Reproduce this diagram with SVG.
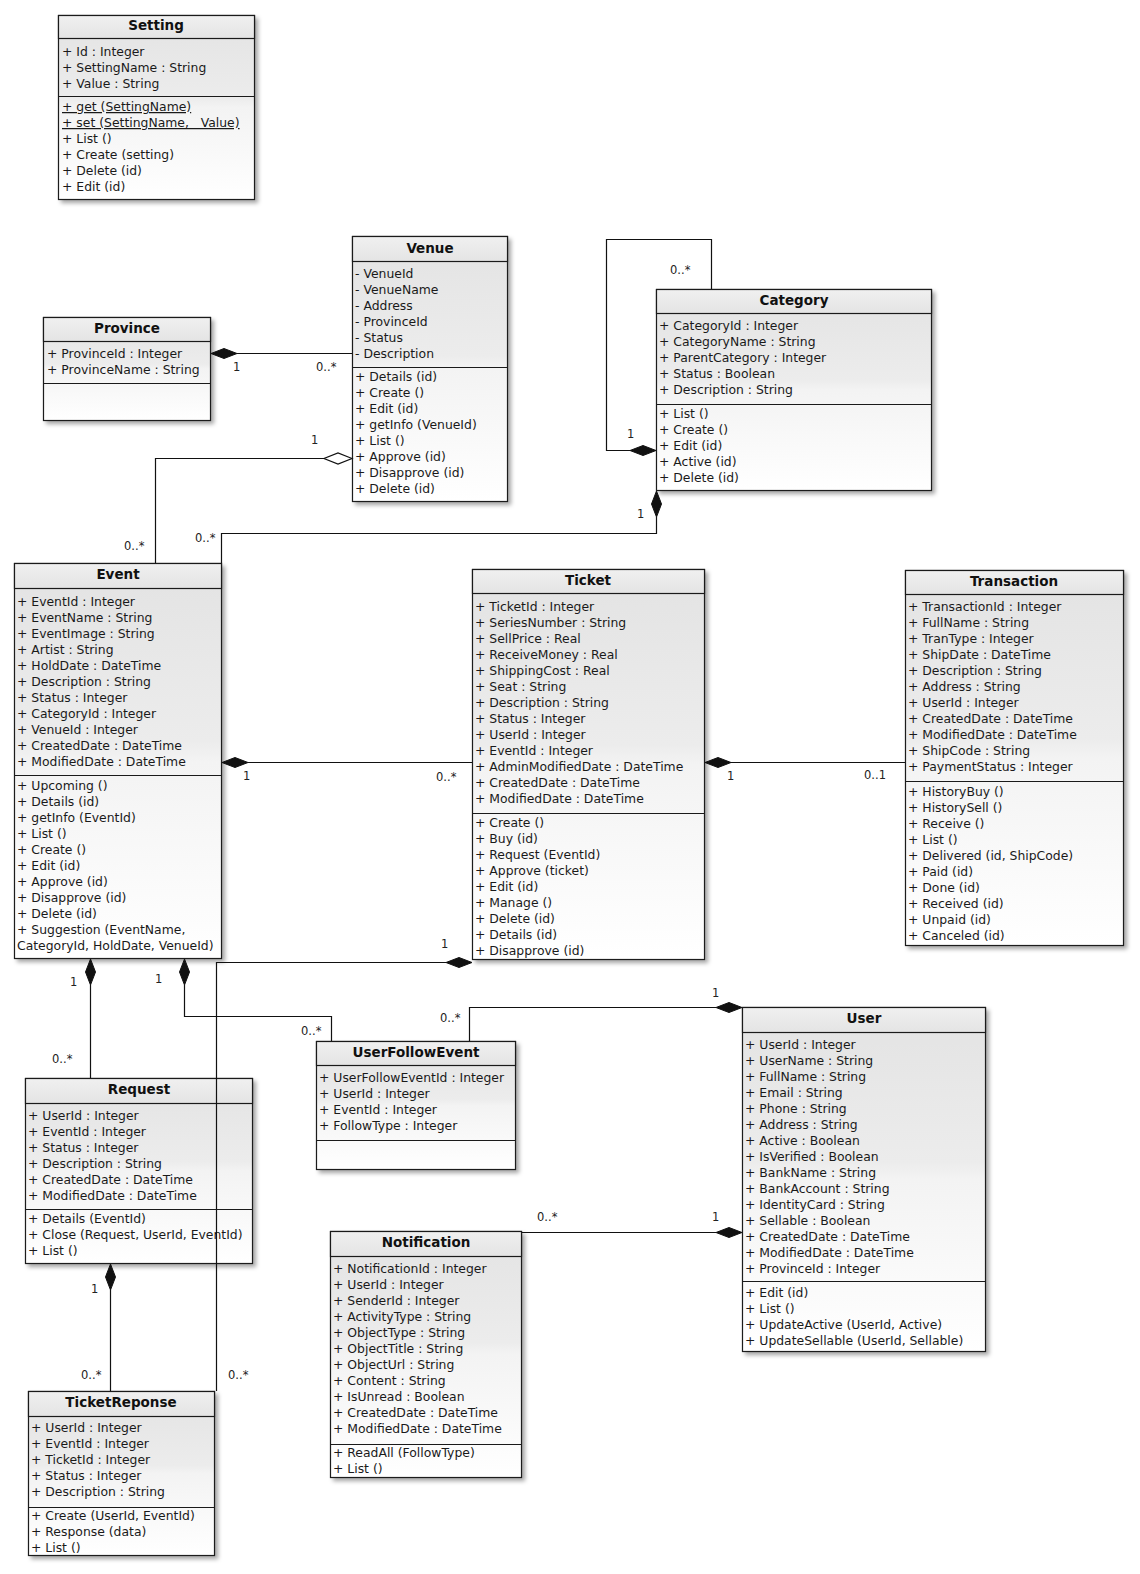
<svg xmlns="http://www.w3.org/2000/svg" width="1140" height="1574" viewBox="0 0 1140 1574">
<defs>
  <linearGradient id="bodyFill" x1="0" y1="0" x2="0" y2="1">
    <stop offset="0" stop-color="#e3e3e3"/>
    <stop offset="0.45" stop-color="#ececec"/>
    <stop offset="0.5" stop-color="#f3f3f3"/>
    <stop offset="1" stop-color="#ffffff"/>
  </linearGradient>
  <linearGradient id="headFill" x1="0" y1="0" x2="0" y2="1">
    <stop offset="0" stop-color="#f0f0f0"/>
    <stop offset="1" stop-color="#e4e4e4"/>
  </linearGradient>
  <filter id="shadow" x="-5%" y="-5%" width="115%" height="115%">
    <feDropShadow dx="3" dy="3" stdDeviation="2" flood-color="#000" flood-opacity="0.35"/>
  </filter>
  <style>
    .frame { fill: url(#bodyFill); stroke: #1a1a1a; stroke-width: 1.2; filter: url(#shadow); }
    .head { fill: url(#headFill); stroke: #1a1a1a; stroke-width: 1.2; }
    .sep { stroke: #1a1a1a; stroke-width: 1.2; }
    .title { font-family: "DejaVu Sans", Verdana, sans-serif; font-weight: bold; font-size: 13.5px; fill: #111; text-anchor: middle; }
    .m { font-family: "DejaVu Sans", Verdana, sans-serif; font-size: 12.4px; fill: #1a1a1a; }
    .u { text-decoration: underline; }
    .wire { fill: none; stroke: #111; stroke-width: 1.2; }
    .solid { fill: #111; stroke: #111; stroke-width: 1; }
    .hollow { fill: #fff; stroke: #111; stroke-width: 1.2; }
    .lbl { font-family: "DejaVu Sans", Verdana, sans-serif; font-size: 11.5px; fill: #222; }
  </style>
</defs>

<rect width="1140" height="1574" fill="#ffffff"/>

<!-- Classes -->
<g id="setting">
  <rect class="frame" x="58.5" y="15.5" width="196" height="184"/>
  <rect class="head" x="58.5" y="15.5" width="196" height="23"/>
  <line class="sep" x1="58.5" y1="96.5" x2="254.5" y2="96.5"/>
  <text class="title" x="156" y="29.5">Setting</text>
  <text class="m" x="62" y="56">+ Id : Integer</text>
  <text class="m" x="62" y="72">+ SettingName : String</text>
  <text class="m" x="62" y="88">+ Value : String</text>
  <text class="m u" x="62" y="111">+ get (SettingName)</text>
  <text class="m u" x="62" y="127" xml:space="preserve">+ set (SettingName,   Value)</text>
  <text class="m" x="62" y="143">+ List ()</text>
  <text class="m" x="62" y="159">+ Create (setting)</text>
  <text class="m" x="62" y="175">+ Delete (id)</text>
  <text class="m" x="62" y="191">+ Edit (id)</text>
</g>

<g id="province">
  <rect class="frame" x="43.5" y="317.5" width="167" height="103"/>
  <rect class="head" x="43.5" y="317.5" width="167" height="24"/>
  <line class="sep" x1="43.5" y1="383.5" x2="210.5" y2="383.5"/>
  <text class="title" x="127" y="332.5">Province</text>
  <text class="m" x="47" y="357.5">+ ProvinceId : Integer</text>
  <text class="m" x="47" y="373.5">+ ProvinceName : String</text>
</g>

<g id="venue">
  <rect class="frame" x="352.5" y="236.5" width="155" height="265"/>
  <rect class="head" x="352.5" y="236.5" width="155" height="25"/>
  <line class="sep" x1="352.5" y1="367.5" x2="507.5" y2="367.5"/>
  <text class="title" x="430" y="252.5">Venue</text>
  <text class="m" x="355" y="277.5">- VenueId</text>
  <text class="m" x="355" y="293.5">- VenueName</text>
  <text class="m" x="355" y="309.5">- Address</text>
  <text class="m" x="355" y="325.5">- ProvinceId</text>
  <text class="m" x="355" y="341.5">- Status</text>
  <text class="m" x="355" y="357.5">- Description</text>
  <text class="m" x="355" y="380.5">+ Details (id)</text>
  <text class="m" x="355" y="396.5">+ Create ()</text>
  <text class="m" x="355" y="412.5">+ Edit (id)</text>
  <text class="m" x="355" y="428.5">+ getInfo (VenueId)</text>
  <text class="m" x="355" y="444.5">+ List ()</text>
  <text class="m" x="355" y="460.5">+ Approve (id)</text>
  <text class="m" x="355" y="476.5">+ Disapprove (id)</text>
  <text class="m" x="355" y="492.5">+ Delete (id)</text>
</g>

<g id="category">
  <rect class="frame" x="656.5" y="289.5" width="275" height="201"/>
  <rect class="head" x="656.5" y="289.5" width="275" height="24"/>
  <line class="sep" x1="656.5" y1="404.5" x2="931.5" y2="404.5"/>
  <text class="title" x="794" y="304.5">Category</text>
  <text class="m" x="659" y="329.5">+ CategoryId : Integer</text>
  <text class="m" x="659" y="345.5">+ CategoryName : String</text>
  <text class="m" x="659" y="361.5">+ ParentCategory : Integer</text>
  <text class="m" x="659" y="377.5">+ Status : Boolean</text>
  <text class="m" x="659" y="393.5">+ Description : String</text>
  <text class="m" x="659" y="417.5">+ List ()</text>
  <text class="m" x="659" y="433.5">+ Create ()</text>
  <text class="m" x="659" y="449.5">+ Edit (id)</text>
  <text class="m" x="659" y="465.5">+ Active (id)</text>
  <text class="m" x="659" y="481.5">+ Delete (id)</text>
</g>

<g id="event">
  <rect class="frame" x="14.5" y="563.5" width="207" height="395"/>
  <rect class="head" x="14.5" y="563.5" width="207" height="25"/>
  <line class="sep" x1="14.5" y1="775.5" x2="221.5" y2="775.5"/>
  <text class="title" x="118" y="579">Event</text>
  <text class="m" x="17" y="605.5">+ EventId : Integer</text>
  <text class="m" x="17" y="621.5">+ EventName : String</text>
  <text class="m" x="17" y="637.5">+ EventImage : String</text>
  <text class="m" x="17" y="653.5">+ Artist : String</text>
  <text class="m" x="17" y="669.5">+ HoldDate : DateTime</text>
  <text class="m" x="17" y="685.5">+ Description : String</text>
  <text class="m" x="17" y="701.5">+ Status : Integer</text>
  <text class="m" x="17" y="717.5">+ CategoryId : Integer</text>
  <text class="m" x="17" y="733.5">+ VenueId : Integer</text>
  <text class="m" x="17" y="749.5">+ CreatedDate : DateTime</text>
  <text class="m" x="17" y="765.5">+ ModifiedDate : DateTime</text>
  <text class="m" x="17" y="789.5">+ Upcoming ()</text>
  <text class="m" x="17" y="805.5">+ Details (id)</text>
  <text class="m" x="17" y="821.5">+ getInfo (EventId)</text>
  <text class="m" x="17" y="837.5">+ List ()</text>
  <text class="m" x="17" y="853.5">+ Create ()</text>
  <text class="m" x="17" y="869.5">+ Edit (id)</text>
  <text class="m" x="17" y="885.5">+ Approve (id)</text>
  <text class="m" x="17" y="901.5">+ Disapprove (id)</text>
  <text class="m" x="17" y="917.5">+ Delete (id)</text>
  <text class="m" x="17" y="933.5">+ Suggestion (EventName,</text>
  <text class="m" x="17" y="949.5">CategoryId, HoldDate, VenueId)</text>
</g>

<g id="ticket">
  <rect class="frame" x="472.5" y="569.5" width="232" height="390"/>
  <rect class="head" x="472.5" y="569.5" width="232" height="24"/>
  <line class="sep" x1="472.5" y1="813.5" x2="704.5" y2="813.5"/>
  <text class="title" x="588" y="584.5">Ticket</text>
  <text class="m" x="475" y="610.5">+ TicketId : Integer</text>
  <text class="m" x="475" y="626.5">+ SeriesNumber : String</text>
  <text class="m" x="475" y="642.5">+ SellPrice : Real</text>
  <text class="m" x="475" y="658.5">+ ReceiveMoney : Real</text>
  <text class="m" x="475" y="674.5">+ ShippingCost : Real</text>
  <text class="m" x="475" y="690.5">+ Seat : String</text>
  <text class="m" x="475" y="706.5">+ Description : String</text>
  <text class="m" x="475" y="722.5">+ Status : Integer</text>
  <text class="m" x="475" y="738.5">+ UserId : Integer</text>
  <text class="m" x="475" y="754.5">+ EventId : Integer</text>
  <text class="m" x="475" y="770.5">+ AdminModifiedDate : DateTime</text>
  <text class="m" x="475" y="786.5">+ CreatedDate : DateTime</text>
  <text class="m" x="475" y="802.5">+ ModifiedDate : DateTime</text>
  <text class="m" x="475" y="826.5">+ Create ()</text>
  <text class="m" x="475" y="842.5">+ Buy (id)</text>
  <text class="m" x="475" y="858.5">+ Request (EventId)</text>
  <text class="m" x="475" y="874.5">+ Approve (ticket)</text>
  <text class="m" x="475" y="890.5">+ Edit (id)</text>
  <text class="m" x="475" y="906.5">+ Manage ()</text>
  <text class="m" x="475" y="922.5">+ Delete (id)</text>
  <text class="m" x="475" y="938.5">+ Details (id)</text>
  <text class="m" x="475" y="954.5">+ Disapprove (id)</text>
</g>

<g id="transaction">
  <rect class="frame" x="905.5" y="570.5" width="218" height="375"/>
  <rect class="head" x="905.5" y="570.5" width="218" height="24"/>
  <line class="sep" x1="905.5" y1="781.5" x2="1123.5" y2="781.5"/>
  <text class="title" x="1014" y="585.5">Transaction</text>
  <text class="m" x="908" y="610.5">+ TransactionId : Integer</text>
  <text class="m" x="908" y="626.5">+ FullName : String</text>
  <text class="m" x="908" y="642.5">+ TranType : Integer</text>
  <text class="m" x="908" y="658.5">+ ShipDate : DateTime</text>
  <text class="m" x="908" y="674.5">+ Description : String</text>
  <text class="m" x="908" y="690.5">+ Address : String</text>
  <text class="m" x="908" y="706.5">+ UserId : Integer</text>
  <text class="m" x="908" y="722.5">+ CreatedDate : DateTime</text>
  <text class="m" x="908" y="738.5">+ ModifiedDate : DateTime</text>
  <text class="m" x="908" y="754.5">+ ShipCode : String</text>
  <text class="m" x="908" y="770.5">+ PaymentStatus : Integer</text>
  <text class="m" x="908" y="795.5">+ HistoryBuy ()</text>
  <text class="m" x="908" y="811.5">+ HistorySell ()</text>
  <text class="m" x="908" y="827.5">+ Receive ()</text>
  <text class="m" x="908" y="843.5">+ List ()</text>
  <text class="m" x="908" y="859.5">+ Delivered (id, ShipCode)</text>
  <text class="m" x="908" y="875.5">+ Paid (id)</text>
  <text class="m" x="908" y="891.5">+ Done (id)</text>
  <text class="m" x="908" y="907.5">+ Received (id)</text>
  <text class="m" x="908" y="923.5">+ Unpaid (id)</text>
  <text class="m" x="908" y="939.5">+ Canceled (id)</text>
</g>

<g id="user">
  <rect class="frame" x="742.5" y="1007.5" width="243" height="344"/>
  <rect class="head" x="742.5" y="1007.5" width="243" height="25"/>
  <line class="sep" x1="742.5" y1="1281.5" x2="985.5" y2="1281.5"/>
  <text class="title" x="864" y="1023">User</text>
  <text class="m" x="745" y="1048.5">+ UserId : Integer</text>
  <text class="m" x="745" y="1064.5">+ UserName : String</text>
  <text class="m" x="745" y="1080.5">+ FullName : String</text>
  <text class="m" x="745" y="1096.5">+ Email : String</text>
  <text class="m" x="745" y="1112.5">+ Phone : String</text>
  <text class="m" x="745" y="1128.5">+ Address : String</text>
  <text class="m" x="745" y="1144.5">+ Active : Boolean</text>
  <text class="m" x="745" y="1160.5">+ IsVerified : Boolean</text>
  <text class="m" x="745" y="1176.5">+ BankName : String</text>
  <text class="m" x="745" y="1192.5">+ BankAccount : String</text>
  <text class="m" x="745" y="1208.5">+ IdentityCard : String</text>
  <text class="m" x="745" y="1224.5">+ Sellable : Boolean</text>
  <text class="m" x="745" y="1240.5">+ CreatedDate : DateTime</text>
  <text class="m" x="745" y="1256.5">+ ModifiedDate : DateTime</text>
  <text class="m" x="745" y="1272.5">+ ProvinceId : Integer</text>
  <text class="m" x="745" y="1296.5">+ Edit (id)</text>
  <text class="m" x="745" y="1312.5">+ List ()</text>
  <text class="m" x="745" y="1328.5">+ UpdateActive (UserId, Active)</text>
  <text class="m" x="745" y="1344.5">+ UpdateSellable (UserId, Sellable)</text>
</g>

<g id="request">
  <rect class="frame" x="25.5" y="1078.5" width="227" height="185"/>
  <rect class="head" x="25.5" y="1078.5" width="227" height="25"/>
  <line class="sep" x1="25.5" y1="1209.5" x2="252.5" y2="1209.5"/>
  <text class="title" x="139" y="1093.5">Request</text>
  <text class="m" x="28" y="1119.5">+ UserId : Integer</text>
  <text class="m" x="28" y="1135.5">+ EventId : Integer</text>
  <text class="m" x="28" y="1151.5">+ Status : Integer</text>
  <text class="m" x="28" y="1167.5">+ Description : String</text>
  <text class="m" x="28" y="1183.5">+ CreatedDate : DateTime</text>
  <text class="m" x="28" y="1199.5">+ ModifiedDate : DateTime</text>
  <text class="m" x="28" y="1222.5">+ Details (EventId)</text>
  <text class="m" x="28" y="1238.5">+ Close (Request, UserId, EventId)</text>
  <text class="m" x="28" y="1254.5">+ List ()</text>
</g>

<g id="userfollowevent">
  <rect class="frame" x="316.5" y="1041.5" width="199" height="128"/>
  <rect class="head" x="316.5" y="1041.5" width="199" height="24"/>
  <line class="sep" x1="316.5" y1="1140.5" x2="515.5" y2="1140.5"/>
  <text class="title" x="416" y="1056.5">UserFollowEvent</text>
  <text class="m" x="319" y="1081.5">+ UserFollowEventId : Integer</text>
  <text class="m" x="319" y="1097.5">+ UserId : Integer</text>
  <text class="m" x="319" y="1113.5">+ EventId : Integer</text>
  <text class="m" x="319" y="1129.5">+ FollowType : Integer</text>
</g>

<g id="notification">
  <rect class="frame" x="330.5" y="1231.5" width="191" height="246"/>
  <rect class="head" x="330.5" y="1231.5" width="191" height="25"/>
  <line class="sep" x1="330.5" y1="1444.5" x2="521.5" y2="1444.5"/>
  <text class="title" x="426" y="1247">Notification</text>
  <text class="m" x="333" y="1272.5">+ NotificationId : Integer</text>
  <text class="m" x="333" y="1288.5">+ UserId : Integer</text>
  <text class="m" x="333" y="1304.5">+ SenderId : Integer</text>
  <text class="m" x="333" y="1320.5">+ ActivityType : String</text>
  <text class="m" x="333" y="1336.5">+ ObjectType : String</text>
  <text class="m" x="333" y="1352.5">+ ObjectTitle : String</text>
  <text class="m" x="333" y="1368.5">+ ObjectUrl : String</text>
  <text class="m" x="333" y="1384.5">+ Content : String</text>
  <text class="m" x="333" y="1400.5">+ IsUnread : Boolean</text>
  <text class="m" x="333" y="1416.5">+ CreatedDate : DateTime</text>
  <text class="m" x="333" y="1432.5">+ ModifiedDate : DateTime</text>
  <text class="m" x="333" y="1457">+ ReadAll (FollowType)</text>
  <text class="m" x="333" y="1473">+ List ()</text>
</g>

<g id="ticketreponse">
  <rect class="frame" x="28.5" y="1391.5" width="186" height="164"/>
  <rect class="head" x="28.5" y="1391.5" width="186" height="25"/>
  <line class="sep" x1="28.5" y1="1507.5" x2="214.5" y2="1507.5"/>
  <text class="title" x="121" y="1406.5">TicketReponse</text>
  <text class="m" x="31" y="1432">+ UserId : Integer</text>
  <text class="m" x="31" y="1448">+ EventId : Integer</text>
  <text class="m" x="31" y="1464">+ TicketId : Integer</text>
  <text class="m" x="31" y="1480">+ Status : Integer</text>
  <text class="m" x="31" y="1496">+ Description : String</text>
  <text class="m" x="31" y="1520">+ Create (UserId, EventId)</text>
  <text class="m" x="31" y="1536">+ Response (data)</text>
  <text class="m" x="31" y="1552">+ List ()</text>
</g>

<!-- Associations -->
<g id="connectors">
  <!-- Province 1 - 0..* Venue -->
  <path class="wire" d="M237 353.5 H352"/>
  <path class="solid" d="M211 353.5 L224 348.5 L237 353.5 L224 358.5 Z"/>
  <text class="lbl" x="233" y="371">1</text>
  <text class="lbl" x="316" y="371">0..*</text>

  <!-- Venue 1 - 0..* Event (aggregation) -->
  <path class="wire" d="M324 458.5 H155.5 V563"/>
  <path class="hollow" d="M352 458.5 L338 453 L324 458.5 L338 464 Z"/>
  <text class="lbl" x="311" y="444">1</text>
  <text class="lbl" x="124" y="550">0..*</text>

  <!-- Category parent/child self association -->
  <path class="wire" d="M711.5 289 V239.5 H606.5 V450.5 H630"/>
  <path class="solid" d="M656 450.5 L643 445.5 L630 450.5 L643 455.5 Z"/>
  <text class="lbl" x="670" y="274">0..*</text>
  <text class="lbl" x="627" y="438">1</text>

  <!-- Category 1 - 0..* Event -->
  <path class="wire" d="M656.5 517 V533.5 H221.5 V563"/>
  <path class="solid" d="M656.5 491 L661.5 504 L656.5 517 L651.5 504 Z"/>
  <text class="lbl" x="637" y="518">1</text>
  <text class="lbl" x="195" y="542">0..*</text>

  <!-- Event 1 - 0..* Ticket -->
  <path class="wire" d="M248 762.5 H472"/>
  <path class="solid" d="M222 762.5 L235 757.5 L248 762.5 L235 767.5 Z"/>
  <text class="lbl" x="243" y="780">1</text>
  <text class="lbl" x="436" y="781">0..*</text>

  <!-- Ticket 1 - 0..1 Transaction -->
  <path class="wire" d="M731 762.5 H905"/>
  <path class="solid" d="M705 762.5 L718 757.5 L731 762.5 L718 767.5 Z"/>
  <text class="lbl" x="727" y="780">1</text>
  <text class="lbl" x="864" y="779">0..1</text>

  <!-- Event 1 - 0..* Request -->
  <path class="wire" d="M90.5 985 V1078"/>
  <path class="solid" d="M90.5 959 L95.5 972 L90.5 985 L85.5 972 Z"/>
  <text class="lbl" x="70" y="986">1</text>
  <text class="lbl" x="52" y="1063">0..*</text>

  <!-- Event 1 - 0..* UserFollowEvent -->
  <path class="wire" d="M184.5 985 V1016.5 H331.5 V1041"/>
  <path class="solid" d="M184.5 959 L189.5 972 L184.5 985 L179.5 972 Z"/>
  <text class="lbl" x="155" y="983">1</text>
  <text class="lbl" x="301" y="1035">0..*</text>

  <!-- Ticket 1 - 0..* TicketReponse -->
  <path class="wire" d="M446 962.5 H216.5 V1391"/>
  <path class="solid" d="M472 962.5 L459 957.5 L446 962.5 L459 967.5 Z"/>
  <text class="lbl" x="441" y="948">1</text>
  <text class="lbl" x="228" y="1379">0..*</text>

  <!-- User 1 - 0..* UserFollowEvent -->
  <path class="wire" d="M716 1007.5 H469.5 V1041"/>
  <path class="solid" d="M742 1007.5 L729 1002.5 L716 1007.5 L729 1012.5 Z"/>
  <text class="lbl" x="712" y="997">1</text>
  <text class="lbl" x="440" y="1022">0..*</text>

  <!-- User 1 - 0..* Notification -->
  <path class="wire" d="M522 1232.5 H716"/>
  <path class="solid" d="M742 1232.5 L729 1227.5 L716 1232.5 L729 1237.5 Z"/>
  <text class="lbl" x="537" y="1221">0..*</text>
  <text class="lbl" x="712" y="1221">1</text>

  <!-- Request 1 - 0..* TicketReponse -->
  <path class="wire" d="M110.5 1290 V1391"/>
  <path class="solid" d="M110.5 1264 L115.5 1277 L110.5 1290 L105.5 1277 Z"/>
  <text class="lbl" x="91" y="1293">1</text>
  <text class="lbl" x="81" y="1379">0..*</text>
</g>
</svg>
